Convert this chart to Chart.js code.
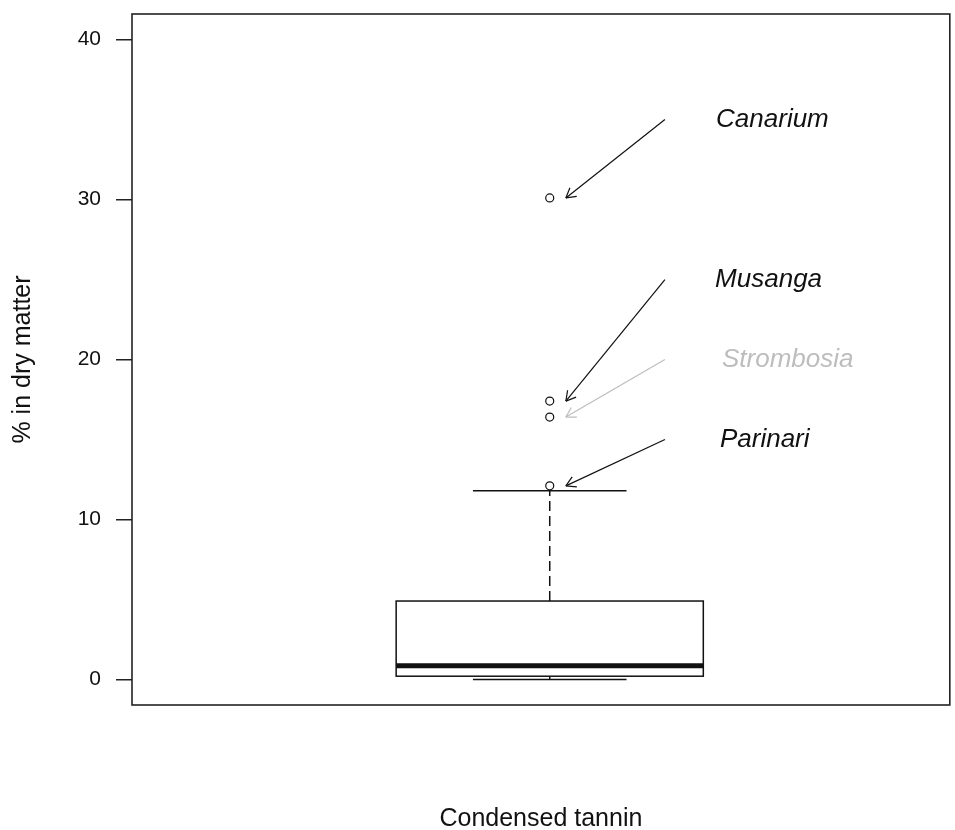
<!DOCTYPE html>
<html>
<head>
<meta charset="utf-8">
<title>Condensed tannin</title>
<script src="https://cdn.jsdelivr.net/npm/chart.js@4/dist/chart.umd.min.js"></script>
<style>
  html, body { margin: 0; padding: 0; background: #fff; }
  #chart { display: block; }
</style>
</head>
<body>
<canvas id="chart" width="955" height="830"></canvas>
<script>
/* ===========================
   Condensed tannin boxplot
   =========================== */

// --- data ---
const groupLabel = 'Condensed tannin';
const yTitle = '% in dry matter';
const yTicks = [0, 10, 20, 30, 40];
const statNames = ['lower', 'q1', 'median', 'q3', 'upper'];
const statValues = [0, 0.2, 0.85, 4.9, 11.8];
const outlierValues = [30.1, 17.4, 16.4, 12.1];
const speciesNames = ['Canarium', 'Musanga', 'Strombosia', 'Parinari'];
const labelValues = [35, 25, 20, 15];
const labelPos = [1.58, 1.57, 1.62, 1.56];
const labelColors = ['#111111', '#111111', '#bdbdbd', '#111111'];

// box geometry in x-units (box centred at 1, like R)
const boxPos = 1, boxHalf = 0.4, capHalf = 0.2;
const arrowTail = 1.30, arrowHead = 1.042;

const INK = '#111111';
const FONT = '"Liberation Sans", Arial, Helvetica, sans-serif';

function line(ctx, x0, y0, x1, y1) {
  ctx.beginPath(); ctx.moveTo(x0, y0); ctx.lineTo(x1, y1); ctx.stroke();
}

const boxPlugin = {
  id: 'boxplot',
  beforeDatasetsDraw(chart) {
    const { ctx, scales: { x, y } } = chart;
    const s = Object.fromEntries(statNames.map((n, i) => [n, y.getPixelForValue(statValues[i])]));
    const xc = x.getPixelForValue(boxPos);
    const xl = x.getPixelForValue(boxPos - boxHalf), xr = x.getPixelForValue(boxPos + boxHalf);
    const cl = x.getPixelForValue(boxPos - capHalf), cr = x.getPixelForValue(boxPos + capHalf);
    ctx.save();
    ctx.strokeStyle = INK; ctx.lineWidth = 1.5;
    ctx.setLineDash([10, 5]);
    line(ctx, xc, s.q3, xc, s.upper);
    line(ctx, xc, s.q1, xc, s.lower);
    ctx.setLineDash([]);
    line(ctx, cl, s.upper, cr, s.upper);
    line(ctx, cl, s.lower, cr, s.lower);
    ctx.fillStyle = '#ffffff';
    ctx.fillRect(xl, s.q3, xr - xl, s.q1 - s.q3);
    ctx.strokeRect(xl, s.q3, xr - xl, s.q1 - s.q3);
    ctx.lineWidth = 5;
    line(ctx, xl, s.median, xr, s.median);
    ctx.restore();
  }
};

const labelPlugin = {
  id: 'speciesLabels',
  afterDatasetsDraw(chart) {
    const { ctx, scales: { x, y } } = chart;
    ctx.save();
    ctx.lineWidth = 1.2;
    ctx.font = `italic 26px ${FONT}`;
    ctx.textAlign = 'center'; ctx.textBaseline = 'middle';
    speciesNames.forEach((name, i) => {
      const x0 = x.getPixelForValue(arrowTail), y0 = y.getPixelForValue(labelValues[i]);
      const x1 = x.getPixelForValue(arrowHead), y1 = y.getPixelForValue(outlierValues[i]);
      ctx.strokeStyle = labelColors[i]; ctx.fillStyle = labelColors[i];
      line(ctx, x0, y0, x1, y1);
      const ang = Math.atan2(y1 - y0, x1 - x0), len = 11, spread = Math.PI / 6;
      line(ctx, x1, y1, x1 - len * Math.cos(ang - spread), y1 - len * Math.sin(ang - spread));
      line(ctx, x1, y1, x1 - len * Math.cos(ang + spread), y1 - len * Math.sin(ang + spread));
      ctx.fillText(name, x.getPixelForValue(labelPos[i]), y0);
    });
    ctx.restore();
  }
};

const framePlugin = {
  id: 'frame',
  afterDraw(chart) {
    const { ctx, chartArea: a } = chart;
    ctx.save();
    ctx.strokeStyle = '#222222'; ctx.lineWidth = 1.6;
    ctx.strokeRect(a.left, a.top, a.right - a.left, a.bottom - a.top);
    ctx.restore();
  }
};

new Chart(document.getElementById('chart').getContext('2d'), {
  type: 'scatter',
  data: {
    datasets: [{
      label: 'outliers',
      data: outlierValues.map(v => ({ x: boxPos, y: v })),
      pointRadius: 4, pointHoverRadius: 4,
      pointBackgroundColor: '#ffffff', pointBorderColor: INK, pointBorderWidth: 1.2,
    }],
  },
  options: {
    responsive: false, animation: false, devicePixelRatio: 1,
    layout: { padding: { top: 14, right: 2, left: 0, bottom: 0 } },
    plugins: { legend: { display: false }, tooltip: { enabled: false } },
    scales: {
      x: {
        type: 'linear', min: -0.088, max: 2.042,
        ticks: { display: false }, grid: { display: false }, border: { display: false },
        title: { display: true, text: groupLabel, color: INK, font: { family: FONT, size: 25, lineHeight: 0.9 }, padding: { top: 0, bottom: 0 } },
        afterFit: s => { s.height = 125; s.paddingLeft = 0; s.paddingRight = 0; },
      },
      y: {
        type: 'linear', min: -1.6, max: 41.6,
        afterBuildTicks: s => { s.ticks = yTicks.map(v => ({ value: v })); },
        ticks: { color: INK, font: { family: FONT, size: 21 }, padding: 15 },
        grid: { drawOnChartArea: false, drawTicks: true, tickLength: 16, color: '#222222', lineWidth: 1.5 },
        border: { display: false },
        title: { display: true, text: yTitle, color: INK, font: { family: FONT, size: 25 }, padding: { top: 8, bottom: 0 } },
        afterFit: s => { s.width = 132; s.paddingTop = 0; s.paddingBottom = 0; },
      },
    },
  },
  plugins: [boxPlugin, labelPlugin, framePlugin],
});
</script>
</body>
</html>
